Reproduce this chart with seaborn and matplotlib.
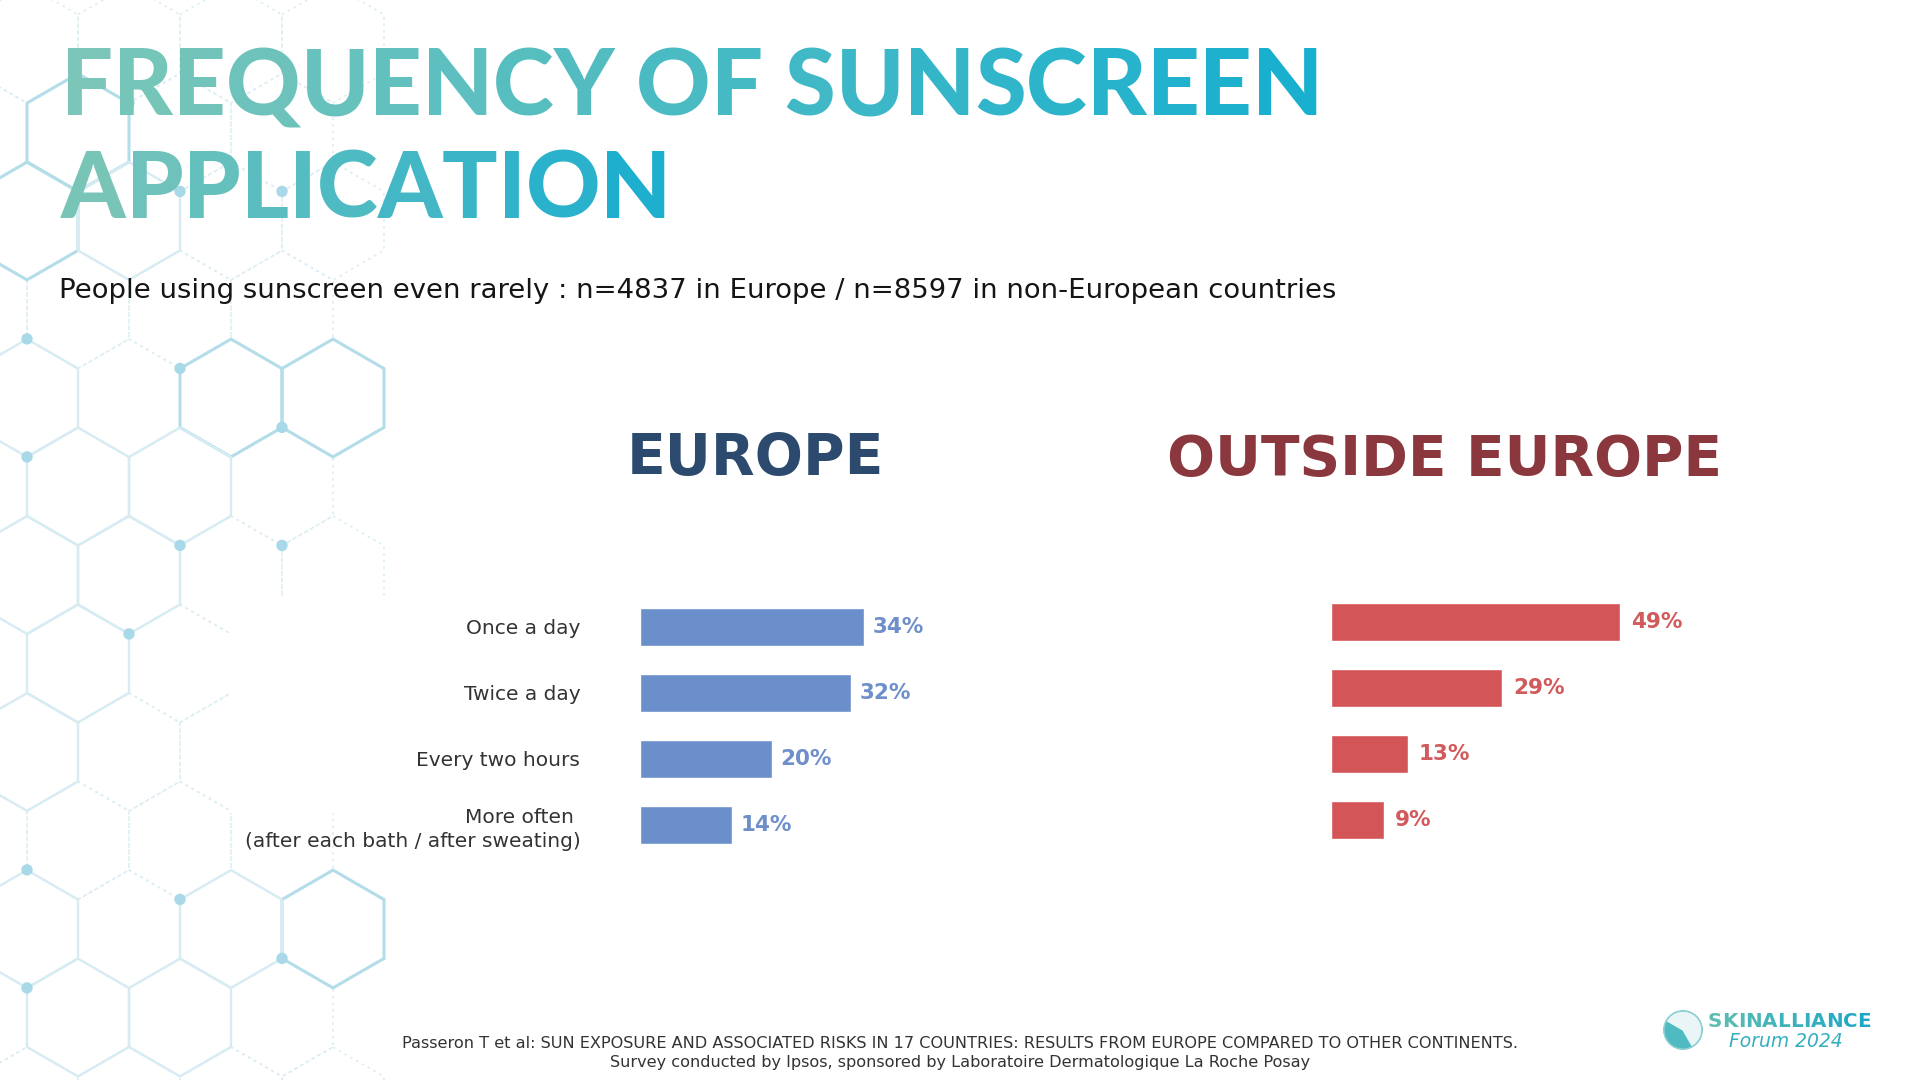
import numpy as np
import pandas as pd
import seaborn as sns
import matplotlib
matplotlib.use("Agg")
import matplotlib.pyplot as plt
from matplotlib.patches import Polygon, Circle, Wedge, Rectangle

# ---------------- data ----------------
categories = ["Once a day", "Twice a day", "Every two hours",
              "More often \n(after each bath / after sweating)"]
europe_values = [34, 32, 20, 14]
outside_values = [49, 29, 13, 9]
europe_labels = [f"{v}%" for v in europe_values]
outside_labels = [f"{v}%" for v in outside_values]

title_lines = ["FREQUENCY OF SUNSCREEN", "APPLICATION"]
subtitle = "People using sunscreen even rarely : n=4837 in Europe / n=8597 in non-European countries"
heading_left = "EUROPE"
heading_right = "OUTSIDE EUROPE"
footer_lines = ["Passeron T et al: SUN EXPOSURE AND ASSOCIATED RISKS IN 17 COUNTRIES: RESULTS FROM EUROPE COMPARED TO OTHER CONTINENTS.",
                "Survey conducted by Ipsos, sponsored by Laboratoire Dermatologique La Roche Posay"]
logo_main = "SKINALLIANCE"
logo_sub = "Forum 2024"

# ---------------- style ----------------
sns.set_theme(style="white")
plt.rcParams["font.family"] = ["DejaVu Sans"]

W, H = 1920, 1080
fig = plt.figure(figsize=(19.2, 10.8), dpi=100)
fig.patch.set_facecolor("white")
bg = fig.add_axes([0, 0, 1, 1])
bg.set_xlim(0, W)
bg.set_ylim(H, 0)
bg.axis("off")
renderer = fig.canvas.get_renderer()

# ---------------- hexagon background ----------------
R = 102 / np.sqrt(3)
ang = np.deg2rad([90, 30, -30, -90, -150, 150])


def hex_verts(cx, cy):
    return np.c_[cx + R * np.cos(ang), cy - R * np.sin(ang)]


all_vertices = []
for j in range(-4, 9):
    cy = 398 + 88.5 * j
    off = 51 if j % 2 else 0
    for i in range(-3, 3):
        cx = 231 + 102 * i - off
        if -60 <= cx <= 340:
            v = hex_verts(cx, cy)
            all_vertices.append(v)
            bg.add_patch(Polygon(v, closed=True, fill=False, ec="#dceef3",
                                 lw=1.2, ls=(0, (1.5, 2.5)), zorder=1))

strong = [(231, 398), (333, 398), (333, 929), (78, 132.5), (27, 221)]
light = [(27, 398), (78, 486.5), (180, 486.5), (27, 575), (129, 575),
         (78, 663.5), (27, 752), (231, 929), (27, 929), (78, 1017.5),
         (180, 1017.5), (129, 221)]
for cx, cy in strong:
    bg.add_patch(Polygon(hex_verts(cx, cy), closed=True, fill=False,
                         ec="#b3dde9", lw=2.2, zorder=2))
for cx, cy in light:
    bg.add_patch(Polygon(hex_verts(cx, cy), closed=True, fill=False,
                         ec="#d6ecf2", lw=1.7, zorder=2))

verts = np.unique(np.round(np.vstack(all_vertices), 1), axis=0)
dot_guess = [(77, 310), (180, 310), (27, 455), (283, 427), (180, 545),
             (283, 545), (129, 633), (27, 752), (77, 841), (180, 841),
             (27, 986), (283, 958), (129, 104), (180, 190), (283, 190)]
for gx, gy in dot_guess:
    k = np.argmin((verts[:, 0] - gx) ** 2 + (verts[:, 1] - gy) ** 2)
    bg.add_patch(Circle(verts[k], 5, color="#a9d9e8", zorder=3))

bg.add_patch(Rectangle((230, 596), 200, 216, color="white", zorder=4))


# ---------------- helpers ----------------
def text_width(s, **kw):
    t = bg.text(0, 0, s, **kw)
    w = t.get_window_extent(renderer).width
    t.remove()
    return w


def fit_size(s, target, **kw):
    return 100 * target / text_width(s, fontsize=100, **kw)


def mix(c0, c1, f):
    f = min(max(f, 0), 1)
    return tuple((np.array(c0) * (1 - f) + np.array(c1) * f) / 255)


def gradient_text(s, x0, ybase, c0, c1, **kw):
    total = text_width(s, **kw)
    for i, ch in enumerate(s):
        if ch == " ":
            continue
        xi = text_width(s[: i + 1], **kw) - text_width(ch, **kw) if i > 0 else 0
        f = (xi + text_width(ch, **kw) / 2) / total
        bg.text(x0 + xi, ybase, ch, color=mix(c0, c1, f), ha="left",
                va="baseline", zorder=6, **kw)


# ---------------- title ----------------
tkw = dict(family=["Lato", "DejaVu Sans"], fontweight=900)
tsize = fit_size(title_lines[0], 1262, **tkw)
tkw["fontsize"] = tsize
gradient_text(title_lines[0], 61, 115, (125, 198, 183), (22, 175, 208), **tkw)
gradient_text(title_lines[1], 61, 218, (125, 198, 183), (24, 172, 207), **tkw)

# subtitle
skw = dict(family=["DejaVu Sans"])
bg.text(59, 298, subtitle, color="#151515", va="baseline", ha="left", zorder=6,
        fontsize=fit_size(subtitle, 1273, **skw), **skw)

# headings
hkw = dict(family=["DejaVu Sans"], fontweight="bold")
bg.text(755.5, 475, heading_left, color="#2c4a6e", ha="center", va="baseline",
        fontsize=fit_size(heading_left, 257, **hkw), zorder=6, **hkw)
bg.text(1444.5, 475, heading_right, color="#8a383d", ha="center", va="baseline",
        fontsize=fit_size(heading_right, 555, **hkw), zorder=6, **hkw)

# footer
fsize = fit_size(footer_lines[0], 1117, family=["DejaVu Sans"])
bg.text(960, 1043, footer_lines[0], ha="center", va="center", color="#333333",
        fontsize=fsize, zorder=6)
bg.text(960, 1062, footer_lines[1], ha="center", va="center", color="#333333",
        fontsize=fsize, zorder=6)

# logo
bg.add_patch(Circle((1683, 1030), 19, color="#4fbac2", zorder=6))
bg.add_patch(Wedge((1683, 1030), 18, -150, 60, color="#e9f5f6", zorder=7))
bg.add_patch(Circle((1683, 1030), 19, fill=False, ec="#8fd0d3", lw=1, zorder=8))
lkw = dict(family=["DejaVu Sans"], fontweight="bold")
lkw["fontsize"] = fit_size(logo_main, 162, **lkw)
gradient_text(logo_main, 1708, 1027, (96, 190, 176), (26, 166, 200), **lkw)
okw = dict(family=["DejaVu Sans"], fontstyle="italic")
bg.text(1729, 1047, logo_sub, color="#35aec0", ha="left", va="baseline",
        fontsize=fit_size(logo_sub, 114, **okw), zorder=6, **okw)

# ---------------- bar charts ----------------
eu_scale, out_scale = 6.6, 5.9
eu_xmax, out_xmax = 61, 60

ax1 = fig.add_axes([640 / W, 1 - 858 / H, eu_xmax * eu_scale / W, 264 / H])
ax1.set_facecolor("none")
sns.barplot(x=europe_values, y=categories, ax=ax1, color="#6b8fca",
            saturation=1, width=0.57, orient="h")
ax1.set_xlim(0, eu_xmax)
ax1.set_ylim(3.5, -0.5)
ax1.set_xticks([])
ax1.set_xlabel("")
ax1.set_ylabel("")
ax1.tick_params(axis="y", length=0, pad=43, labelsize=14.5, labelcolor="#333333")
for t in ax1.get_yticklabels():
    t.set_multialignment("right")
    t.set_linespacing(1.35)
sns.despine(ax=ax1, left=True, bottom=True)
ax1.bar_label(ax1.containers[0], labels=europe_labels, padding=6,
              color="#6f8fca", fontweight="bold", fontsize=15.5)

ax2 = fig.add_axes([1331 / W, 1 - 853 / H, out_xmax * out_scale / W, 264 / H])
ax2.set_facecolor("none")
sns.barplot(x=outside_values, y=categories, ax=ax2, color="#d45558",
            saturation=1, width=0.57, orient="h")
ax2.set_xlim(0, out_xmax)
ax2.set_ylim(3.5, -0.5)
ax2.set_xticks([])
ax2.set_yticks([])
ax2.set_xlabel("")
ax2.set_ylabel("")
sns.despine(ax=ax2, left=True, bottom=True)
ax2.bar_label(ax2.containers[0], labels=outside_labels, padding=8,
              color="#d15a5c", fontweight="bold", fontsize=15.5)

fig.savefig("out.png", dpi=100, facecolor="white")
